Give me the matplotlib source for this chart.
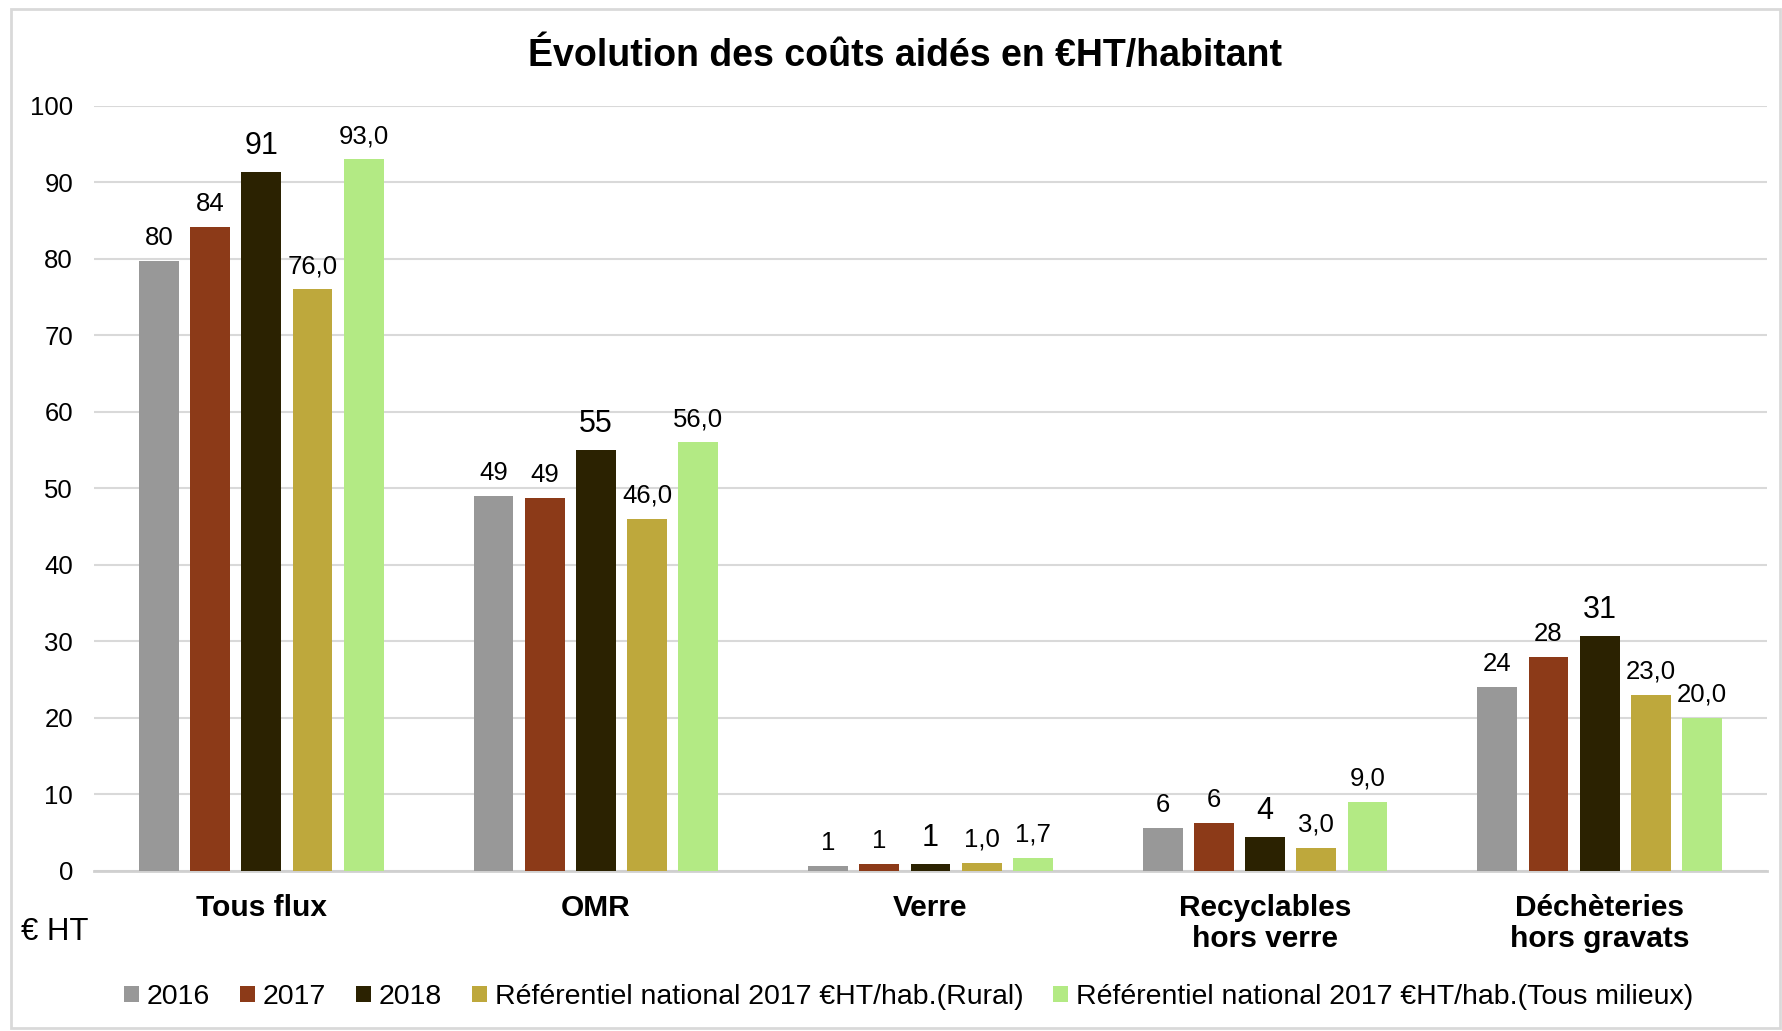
import numpy as np
import matplotlib.pyplot as plt
from matplotlib.patches import Rectangle

plt.rcParams['font.family'] = ['Liberation Sans', 'DejaVu Sans']

# categories and series
categories = ['Tous flux', 'OMR', 'Verre', 'Recyclables\nhors verre', 'Déchèteries\nhors gravats']
series_names = ['2016', '2017', '2018',
                'Référentiel national 2017 €HT/hab.(Rural)',
                'Référentiel national 2017 €HT/hab.(Tous milieux)']
v2016 = [79.7, 49.0, 0.6, 5.6, 24.0]
v2017 = [84.1, 48.7, 0.8, 6.2, 27.9]
v2018 = [91.3, 55.0, 0.8, 4.4, 30.7]
ref_rural = [76.0, 46.0, 1.0, 3.0, 23.0]
ref_tous = [93.0, 56.0, 1.7, 9.0, 20.0]
values = [v2016, v2017, v2018, ref_rural, ref_tous]
label_fmt = ['{:.0f}', '{:.0f}', '{:.0f}', '{:.1f}', '{:.1f}']
colors = ['#989898', '#8c3a18', '#2b2201', '#bea83c', '#b3ea84']

fig = plt.figure(figsize=(17.82, 10.31), dpi=100)
ax = fig.add_axes([0.0527, 0.1556, 0.9389, 0.7419])

x = np.arange(len(categories))
step = 0.153
width = 0.119
for i, (vals, name, col, fmt) in enumerate(zip(values, series_names, colors, label_fmt)):
    pos = x + (i - 2) * step
    bars = ax.bar(pos, vals, width=width, color=col, label=name, zorder=3)
    fs = 22 if i == 2 else 18.5
    for b, v in zip(bars, vals):
        ax.annotate(fmt.format(v).replace('.', ','),
                    (b.get_x() + b.get_width() / 2, v),
                    xytext=(0, 8), textcoords='offset points',
                    ha='center', va='bottom', fontsize=fs)

ax.set_xlim(-0.5, len(categories) - 0.5)
ax.set_ylim(0, 100)
ax.set_yticks(np.arange(0, 101, 10))
ax.set_xticks(x)
ax.set_xticklabels(categories, fontsize=21.5, fontweight='bold', linespacing=1.12)
ax.tick_params(axis='x', length=0, pad=17)
ax.tick_params(axis='y', length=0, pad=15, labelsize=18.5)
ax.grid(axis='y', color='#d9d9d9', linewidth=1.5, zorder=0)
for s in ['top', 'right', 'left']:
    ax.spines[s].set_visible(False)
ax.spines['bottom'].set_color('#d0d0d0')
ax.spines['bottom'].set_linewidth(2)

fig.text(0.508, 0.946, 'Évolution des coûts aidés en €HT/habitant',
         ha='center', va='center', fontsize=27, fontweight='bold')
fig.text(0.012, 0.096, '€ HT', ha='left', va='center', fontsize=22.5)

fig.legend(loc='center', bbox_to_anchor=(0.51, 0.033), ncol=5, frameon=False,
           fontsize=20.5, handlelength=0.52, handleheight=0.52, handletextpad=0.28,
           columnspacing=1.05)

# outer frame
fig.patches.append(Rectangle((0.006, 0.003), 0.993, 0.988, transform=fig.transFigure,
                             fill=False, edgecolor='#d9d9d9', linewidth=2))

fig.savefig('out.png', dpi=100)
